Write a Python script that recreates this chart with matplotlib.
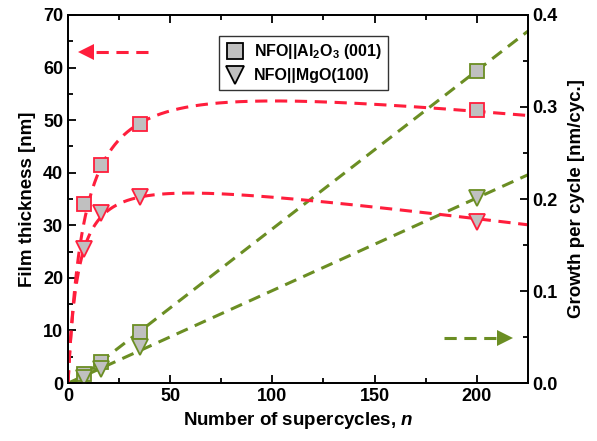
import numpy as np
import matplotlib
matplotlib.use('Agg')
import matplotlib.pyplot as plt
from matplotlib.lines import Line2D

plt.rcParams['font.family'] = ['Liberation Sans', 'DejaVu Sans']
plt.rcParams['font.weight'] = 'bold'
plt.rcParams['mathtext.fontset'] = 'custom'
plt.rcParams['mathtext.rm'] = 'Liberation Sans:bold'
plt.rcParams['mathtext.it'] = 'Liberation Sans:bold:italic'
plt.rcParams['mathtext.bf'] = 'Liberation Sans:bold'

# 数据
n_cycles = [8, 16, 35, 200]
thick_al2o3 = [1.8, 4.0, 9.7, 59.4]      # nm
thick_mgo = [1.0, 2.6, 6.8, 35.1]        # nm
gpc_al2o3 = [0.195, 0.237, 0.282, 0.297]  # nm/cyc.
gpc_mgo = [0.146, 0.185, 0.202, 0.175]    # nm/cyc.

labels = ['NFO||Al$_2$O$_3$ (001)', 'NFO||MgO(100)']

# GPC 拟合曲线参数: g = A*n/(n+K) - c*n
fit_al2o3 = {'A': 0.357, 'K': 8.0, 'c': 2.4e-4}
fit_mgo = {'A': 0.2425, 'K': 5.0, 'c': 2.9e-4}

red = '#ff1e3c'
green = '#6b8e23'
gray = '#c0c0c0'

fig = plt.figure(figsize=(5.97, 4.41), dpi=100)
ax1 = fig.add_axes([0.114, 0.1315, 0.77, 0.8345])
ax2 = ax1.twinx()

n_fit = np.linspace(0, 225, 500)

# 厚度线性拟合（左轴）
for thick in [thick_al2o3, thick_mgo]:
    p = np.polyfit(n_cycles, thick, 1)
    ax1.plot(n_fit, np.polyval(p, n_fit), '--', color=green, lw=2.2, dashes=(4, 2.5), zorder=2)

ax1.plot(n_cycles, thick_al2o3, 's', ms=10, mfc=gray, mec=green, mew=1.3, zorder=3)
ax1.plot(n_cycles, thick_mgo, 'v', ms=12, mfc=gray, mec=green, mew=1.3, zorder=3)

# GPC 拟合曲线（右轴）
n_fit2 = np.linspace(0.01, 225, 800)
for prm in [fit_al2o3, fit_mgo]:
    g = prm['A'] * n_fit2 / (n_fit2 + prm['K']) - prm['c'] * n_fit2
    ax2.plot(n_fit2, g, '--', color=red, lw=2.2, dashes=(4, 2.5), zorder=2)

ax2.plot(n_cycles, gpc_al2o3, 's', ms=10, mfc=gray, mec=red, mew=1.3, zorder=3)
ax2.plot(n_cycles, gpc_mgo, 'v', ms=12, mfc=gray, mec=red, mew=1.3, zorder=3)

# 箭头
ax1.plot([39, 10], [63, 63], '--', color=red, lw=2.2, dashes=(4, 2.5))
ax1.plot([9], [63], '<', color=red, ms=11, mew=0)
ax1.plot([184, 213], [8.6, 8.6], '--', color=green, lw=2.2, dashes=(4, 2.5))
ax1.plot([214], [8.6], '>', color=green, ms=11, mew=0)

ax1.set_xlim(0, 225)
ax1.set_ylim(0, 70)
ax2.set_ylim(0, 0.4)

ax1.set_xticks([0, 50, 100, 150, 200])
ax1.set_xticks(np.arange(25, 225, 50), minor=True)
ax1.set_yticks(np.arange(0, 71, 10))
ax1.set_yticks(np.arange(5, 70, 10), minor=True)
ax2.set_yticks([0.0, 0.1, 0.2, 0.3, 0.4])
ax2.set_yticks([0.05, 0.15, 0.25, 0.35], minor=True)

ax1.tick_params(which='both', direction='in', top=True, right=False, labelsize=13, width=1.3)
ax1.tick_params(which='major', length=6)
ax1.tick_params(which='minor', length=3.5)
ax2.tick_params(which='both', direction='in', labelsize=13, width=1.3)
ax2.tick_params(which='major', length=6)
ax2.tick_params(which='minor', length=3.5)

for ax in [ax1, ax2]:
    for s in ax.spines.values():
        s.set_linewidth(1.3)

ax1.set_xlabel('Number of supercycles, $n$', fontsize=13.5, fontweight='bold', labelpad=4)
ax1.set_ylabel('Film thickness [nm]', fontsize=13.5, fontweight='bold', labelpad=5)
ax2.set_ylabel('Growth per cycle [nm/cyc.]', fontsize=13.5, fontweight='bold', labelpad=7)

handles = [
    Line2D([], [], marker='s', ls='none', ms=11, mfc=gray, mec='black', mew=1.3),
    Line2D([], [], marker='v', ls='none', ms=13, mfc=gray, mec='black', mew=1.3),
]
leg = ax2.legend(handles, labels, loc='upper left', bbox_to_anchor=(0.31, 0.965),
                 fontsize=11.5, frameon=True, fancybox=False, edgecolor='black',
                 handletextpad=0.6, borderpad=0.4, labelspacing=0.45, handlelength=1.2)
leg.get_frame().set_linewidth(1.0)
for t in leg.get_texts():
    t.set_fontweight('bold')

fig.savefig('out.png', dpi=100)
